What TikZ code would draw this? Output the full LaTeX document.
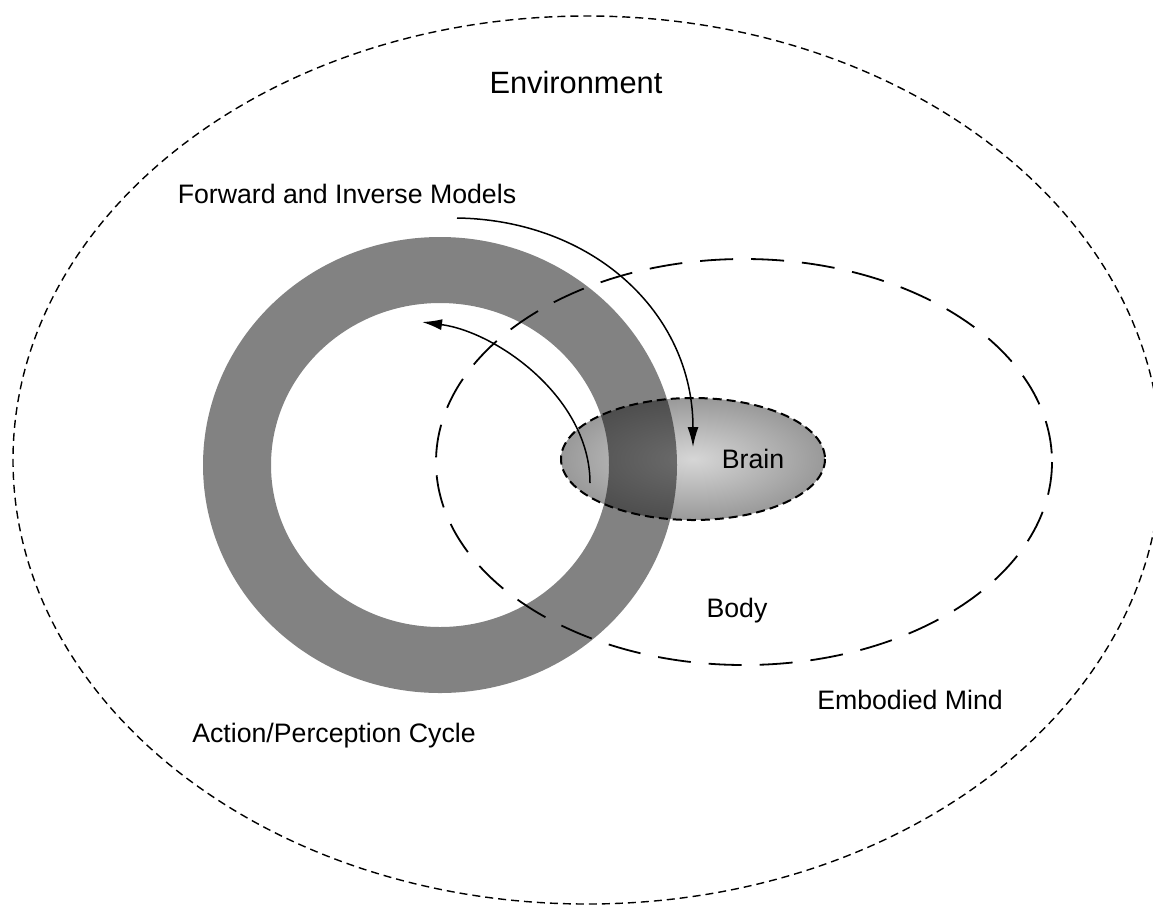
\documentclass[tikz,border=0pt]{standalone}
\usepackage{fontspec}
\setmainfont{Liberation Sans}
\usetikzlibrary{arrows.meta}

\begin{document}
\begin{tikzpicture}[x=1pt,y=-1pt,>={Latex[length=20pt,width=11pt]},
  lbl/.style={font=\fontsize{26.7}{32}\selectfont,inner sep=0pt,anchor=base},
  envline/.style={line width=1.4pt,dash pattern=on 8pt off 5pt},
  bodyline/.style={line width=1.8pt,dash pattern=on 33pt off 18pt},
  brainline/.style={line width=2pt,dash pattern=on 9pt off 5pt},
  loopline/.style={line width=1.5pt,->}]
  \clip (0,0) rectangle (1153,919);

  % ================= centres =================
  \coordinate (envc)   at (587,460);
  \coordinate (ringc)  at (440,465);
  \coordinate (bodyc)  at (744,462);
  \coordinate (brainc) at (693,459);

  % ================= environment =================
  \draw[envline] (envc) ellipse [x radius=574, y radius=444];

  % ================= brain (shaded) =================
  \shade[inner color=gray!32,outer color=gray!80] (brainc) ellipse [x radius=132, y radius=61];

  % ================= action/perception ring =================
  \fill[black,opacity=0.49,even odd rule]
    (ringc) ellipse [x radius=237, y radius=228]
    (ringc) ellipse [x radius=169, y radius=162];

  % ================= body and brain outlines =================
  \draw[bodyline] (bodyc) ellipse [x radius=308, y radius=203];
  \draw[brainline] (brainc) ellipse [x radius=132, y radius=61];

  % ================= loop arrows =================
  \coordinate (fwdstart)  at (457,218);
  \coordinate (fwdend)    at (693,447);
  \coordinate (backstart) at (590,483);
  \coordinate (backend)   at (422,322);
  \draw[loopline] (fwdstart) .. controls +(135,2) and +(0,-135) .. (fwdend);
  \draw[loopline] (backstart) .. controls +(0,-85) and +(75,10) .. (backend);

  % ================= labels =================
  \node[lbl,font=\fontsize{30.8}{36}\selectfont] (envlbl) at (576,93) {Environment};
  \node[lbl] (fwdlbl)   at (347,203) {Forward and Inverse Models};
  \node[lbl] (brainlbl) at (753,468) {Brain};
  \node[lbl] (bodylbl)  at (737,617) {Body};
  \node[lbl] (mindlbl)  at (910,709) {Embodied Mind};
  \node[lbl] (cyclbl)   at (334,742) {Action/Perception Cycle};

\end{tikzpicture}
\end{document}
